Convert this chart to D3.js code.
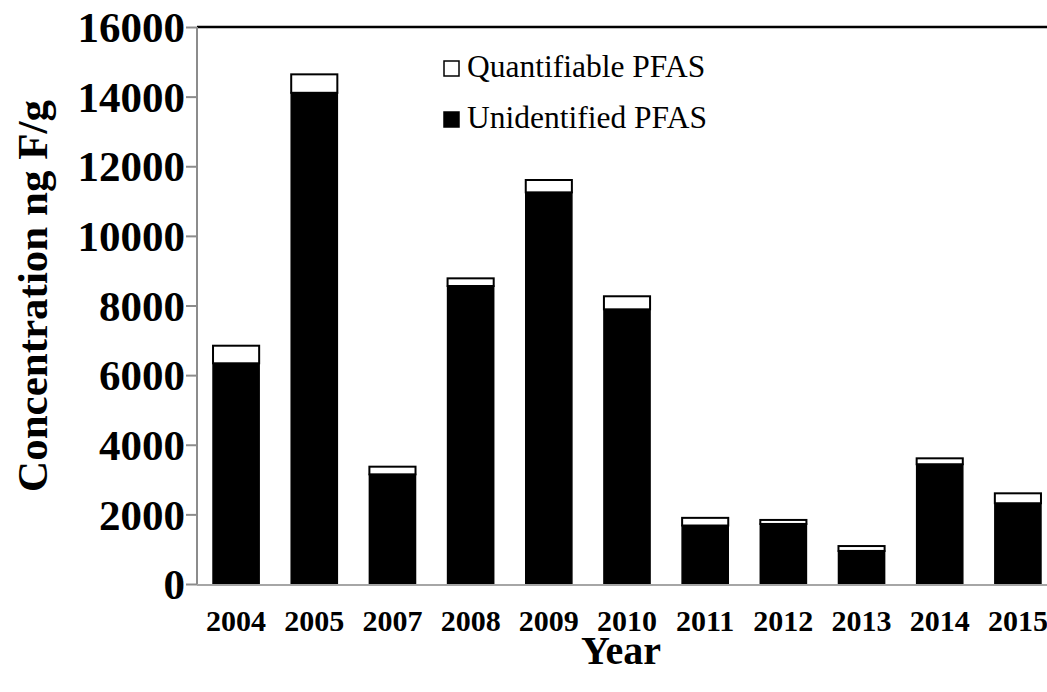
<!DOCTYPE html>
<html lang="en">
<head>
<meta charset="UTF-8">
<title>PFAS concentration by year</title>
<script src="https://d3js.org/d3.v7.min.js"></script>
<style>
  body { margin: 0; background: #fff; }
  svg { display: block; }
  svg text { font-family: "Liberation Serif", "Times New Roman", serif; fill: #000; }
  .tick text { font-weight: bold; }
</style>
</head>
<body>
<svg id="chart" width="1047" height="692"></svg>
<script>
// values (ng F/g)
var years = ["2004", "2005", "2007", "2008", "2009", "2010", "2011", "2012", "2013", "2014", "2015"];
var unidentified = [6340, 14110, 3150, 8560, 11250, 7890, 1680, 1725, 950, 3440, 2320];
var quantifiable = [505, 530, 220, 220, 355, 375, 220, 115, 140, 170, 285];
var yTicks = [0, 2000, 4000, 6000, 8000, 10000, 12000, 14000, 16000];
var seriesNames = ["Quantifiable PFAS", "Unidentified PFAS"];

var svg = d3.select("#chart");

var plotLeft = 197, plotTop = 27, plotBottom = 584;

var x = d3.scaleBand()
    .domain(years)
    .range([plotLeft, plotLeft + 860])
    .paddingInner(0.41)
    .paddingOuter(0.205);

var y = d3.scaleLinear()
    .domain([0, 16000])
    .range([plotBottom, plotTop]);

var rows = years.map(function(d, i) {
  return { year: d, unid: unidentified[i], quant: quantifiable[i] };
});

// top border of the plot area
svg.append("line")
    .attr("x1", plotLeft).attr("x2", 1047)
    .attr("y1", plotTop).attr("y2", plotTop)
    .attr("stroke", "#000").attr("stroke-width", 2.5);

// bars
var bars = svg.append("g");
bars.selectAll("rect.unid")
    .data(rows)
  .enter().append("rect")
    .attr("class", "unid")
    .attr("x", function(d) { return x(d.year); })
    .attr("width", x.bandwidth())
    .attr("y", function(d) { return y(d.unid); })
    .attr("height", function(d) { return y(0) - y(d.unid); })
    .attr("fill", "#000")
    .attr("stroke", "#000")
    .attr("stroke-width", 1.5);

bars.selectAll("rect.quant")
    .data(rows)
  .enter().append("rect")
    .attr("class", "quant")
    .attr("x", function(d) { return x(d.year); })
    .attr("width", x.bandwidth())
    .attr("y", function(d) { return y(d.unid + d.quant); })
    .attr("height", function(d) { return y(d.unid) - y(d.unid + d.quant); })
    .attr("fill", "#fff")
    .attr("stroke", "#000")
    .attr("stroke-width", 2);

// y axis
var yAxis = svg.append("g")
    .attr("transform", "translate(" + plotLeft + ",0)")
    .call(d3.axisLeft(y).tickValues(yTicks).tickFormat(d3.format("d"))
      .tickSize(11).tickSizeOuter(0).tickPadding(1));
yAxis.attr("font-family", null);
yAxis.selectAll("line, path").attr("stroke", "#8c8c8c").attr("stroke-width", 2);
yAxis.selectAll("text").style("font-size", "43px").attr("dy", "0.34em");
yAxis.select(".domain").attr("d", "M0," + plotTop + "V" + (plotBottom + 1));

// x axis
var xAxis = svg.append("g")
    .attr("transform", "translate(0," + (plotBottom + 1) + ")")
    .call(d3.axisBottom(x).tickSize(0).tickPadding(25));
xAxis.attr("font-family", null);
xAxis.select(".domain").attr("d", "M" + plotLeft + ",0H1047").attr("stroke", "#a6a6a6").attr("stroke-width", 2);
xAxis.selectAll("text").style("font-size", "30px");

// axis titles
svg.append("text")
    .attr("x", 621).attr("y", 664)
    .attr("text-anchor", "middle")
    .style("font-size", "40px").style("font-weight", "bold")
    .text("Year");

svg.append("text")
    .attr("transform", "translate(47,296) rotate(-90)")
    .attr("text-anchor", "middle")
    .style("font-size", "43px").style("font-weight", "bold")
    .text("Concentration ng F/g");

// legend
var legend = svg.append("g").attr("transform", "translate(443,60)");
var item = legend.selectAll("g")
    .data(seriesNames)
  .enter().append("g")
    .attr("transform", function(d, i) { return "translate(0," + (i * 51) + ")"; });
item.append("rect")
    .attr("x", 1).attr("y", 1)
    .attr("width", 15).attr("height", 15)
    .attr("fill", function(d, i) { return i === 0 ? "#fff" : "#000"; })
    .attr("stroke", "#000").attr("stroke-width", 1.5);
item.append("text")
    .attr("x", 24).attr("y", 17)
    .style("font-size", "31.5px")
    .text(function(d) { return d; });
</script>
</body>
</html>
